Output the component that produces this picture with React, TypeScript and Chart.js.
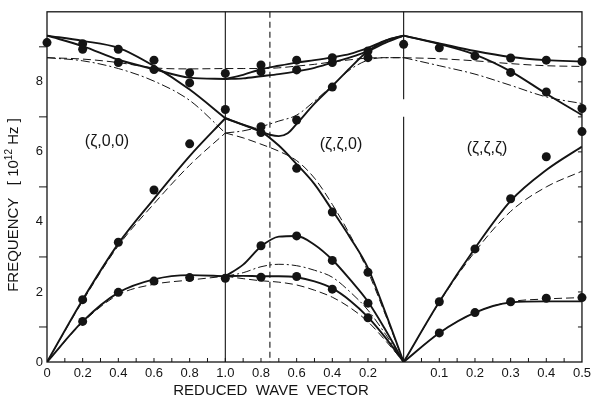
import { useEffect, useRef } from 'react';
import { Chart, registerables } from 'chart.js';
Chart.register(...registerables);

// ---- reduced wave vector grids (one per direction) ----
const Z100 = [0, 0.2, 0.4, 0.6, 0.8, 1.0];
const Z110 = [1.0, 0.9, 0.8, 0.7, 0.6, 0.5, 0.4, 0.3, 0.2, 0.1, 0];
const Z110F = [1.0, 0.9, 0.8, 0.75, 0.7, 0.65, 0.6, 0.5, 0.4, 0.3, 0.2, 0.1, 0];
const Z111 = [0, 0.1, 0.2, 0.3, 0.4, 0.5];

// ---- (ζ,0,0) calculated branches, frequency in 10^12 Hz ----
const S100_TO = [9.32, 9.02, 8.63, 8.36, 8.12, 8.08];
const S100_LO = [9.32, 9.17, 8.97, 8.45, 7.78, 6.96];
const S100_LA = [0, 1.78, 3.38, 4.66, 5.88, 6.96];
const S100_TA = [0, 1.16, 1.98, 2.36, 2.48, 2.45];
const D100_TO = [8.69, 8.65, 8.55, 8.4, 8.37, 8.38];
const D100_LO = [8.69, 8.6, 8.38, 8.02, 7.47, 6.54];
const D100_LA = [0, 1.74, 3.32, 4.52, 5.62, 6.54];
const D100_TA = [0, 1.13, 1.92, 2.22, 2.34, 2.45];

// ---- (ζ,ζ,0) calculated branches ----
const S110_T1 = [8.08, 8.1, 8.16, 8.22, 8.3, 8.4, 8.55, 8.7, 8.88, 9.12, 9.32];
const S110_T2 = [8.08, 8.2, 8.36, 8.46, 8.55, 8.62, 8.7, 8.8, 8.97, 9.18, 9.32];
const S110_OPT = [6.96, 6.77, 6.58, 6.49, 6.45, 6.53, 6.8, 7.38, 7.88, 8.4, 8.88, 9.18, 9.32];
const S110_LA = [6.96, 6.78, 6.58, 6.18, 5.65, 5.08, 4.33, 3.55, 2.68, 1.38, 0];
const S110_TA1 = [2.45, 2.78, 3.3, 3.58, 3.6, 3.35, 2.92, 2.35, 1.72, 0.9, 0];
const S110_TA2 = [2.45, 2.46, 2.45, 2.45, 2.42, 2.3, 2.1, 1.75, 1.28, 0.68, 0];
const D110_UP = [8.38, 8.38, 8.38, 8.4, 8.45, 8.5, 8.57, 8.63, 8.68, 8.69, 8.69];
const D110_OPT = [6.54, 6.6, 6.72, 6.88, 7.05, 7.45, 7.9, 8.35, 8.62, 8.69, 8.69];
const D110_LA = [6.54, 6.4, 6.22, 6.02, 5.75, 5.25, 4.5, 3.62, 2.58, 1.32, 0];
const D110_TA1 = [2.45, 2.55, 2.72, 2.79, 2.75, 2.62, 2.42, 2.0, 1.48, 0.78, 0];
const D110_TA2 = [2.45, 2.38, 2.32, 2.28, 2.2, 2.05, 1.85, 1.55, 1.15, 0.6, 0];

// ---- (ζ,ζ,ζ) calculated branches ----
const S111_TO = [9.32, 9.1, 8.88, 8.71, 8.62, 8.58];
const S111_LO = [9.32, 9.08, 8.78, 8.3, 7.66, 7.05];
const S111_LA = [0, 1.72, 3.25, 4.6, 5.48, 6.15];
const S111_TA = [0, 0.83, 1.41, 1.7, 1.73, 1.73];
const D111_TO = [8.69, 8.66, 8.6, 8.52, 8.46, 8.44];
const D111_LO = [8.69, 8.46, 8.22, 7.9, 7.57, 7.38];
const D111_LA = [0, 1.7, 3.15, 4.3, 5.0, 5.45];
const D111_TA = [0, 0.83, 1.41, 1.72, 1.8, 1.84];

// ---- measured points [ζ, frequency] ----
const P100: number[][] = [
  [0, 9.12], [0.2, 9.09], [0.2, 8.93], [0.4, 8.93], [0.4, 8.55], [0.6, 8.62], [0.6, 8.35],
  [0.8, 8.26], [0.8, 7.97], [1.0, 8.24], [1.0, 7.21], [0.8, 6.23], [0.6, 4.91], [0.4, 3.42],
  [0.2, 1.78], [0.2, 1.16], [0.4, 1.99], [0.6, 2.31], [0.8, 2.41], [1.0, 2.39],
];
const P110: number[][] = [
  [0.8, 8.48], [0.8, 8.29], [0.6, 8.62], [0.6, 8.34], [0.4, 8.69], [0.4, 8.55], [0.2, 8.88], [0.2, 8.69],
  [0, 9.07], [0.8, 6.72], [0.8, 6.55], [0.6, 6.91], [0.4, 7.85], [0.6, 5.53], [0.4, 4.28], [0.2, 2.56],
  [0.6, 3.6], [0.8, 3.32], [0.4, 2.9], [0.2, 1.68], [0.8, 2.42], [0.6, 2.44], [0.4, 2.08], [0.2, 1.26],
];
const P111: number[][] = [
  [0.1, 8.97], [0.2, 8.74], [0.3, 8.68], [0.3, 8.27], [0.4, 8.62], [0.4, 7.71], [0.5, 8.58], [0.5, 7.24],
  [0.5, 6.58], [0.4, 5.86], [0.3, 4.66], [0.2, 3.23], [0.1, 1.72], [0.1, 0.83], [0.2, 1.41], [0.3, 1.72],
  [0.4, 1.82], [0.5, 1.84],
];

const SECTION_LABELS = ['(ζ,0,0)', '(ζ,ζ,0)', '(ζ,ζ,ζ)'];
const X_TITLE = 'REDUCED  WAVE  VECTOR';
const Y_TICKS = [0, 2, 4, 6, 8];

const FONT = "'Liberation Sans', Arial, sans-serif";
const INK = '#141414';

// position along the combined abscissa: section 0 -> ζ, section 1 -> 2-ζ, section 2 -> 2+2ζ
const toU = (sec: number, z: number) => (sec === 0 ? z : sec === 1 ? 2 - z : 2 + 2 * z);

type Style = 'solid' | 'dash' | 'dashdot';
const curve = (sec: number, zs: number[], vs: number[], style: Style) => {
  const data = zs.map((z, i) => ({ x: toU(sec, z), y: vs[i] })).sort((a, b) => a.x - b.x);
  return {
    data,
    showLine: true,
    pointRadius: 0,
    borderColor: INK,
    borderWidth: style === 'solid' ? 1.9 : 1,
    borderDash: style === 'solid' ? [] : style === 'dash' ? [8, 4] : [9, 3, 2, 3],
    cubicInterpolationMode: 'monotone' as const,
    order: 1,
  };
};
const dots = (sec: number, pts: number[][]) => ({
  data: pts.map(([z, f]) => ({ x: toU(sec, z), y: f })),
  showLine: false,
  pointRadius: 4.5,
  pointBackgroundColor: INK,
  pointBorderColor: INK,
  pointBorderWidth: 0,
  clip: false as const,
  order: 0,
});

const overlay = {
  id: 'overlay',
  beforeDraw(chart: any) {
    const { ctx } = chart;
    ctx.save();
    ctx.fillStyle = '#fff';
    ctx.fillRect(0, 0, chart.width, chart.height);
    ctx.restore();
  },
  beforeDatasetsDraw(chart: any) {
    const { ctx, chartArea: a, scales } = chart;
    const xs = scales.x, ys = scales.y;
    ctx.save();
    ctx.strokeStyle = INK;
    ctx.lineWidth = 1.3;
    ctx.strokeRect(a.left, a.top, a.right - a.left, a.bottom - a.top);
    // section separators
    ctx.lineWidth = 1.1;
    const x1 = xs.getPixelForValue(1);
    ctx.beginPath(); ctx.moveTo(x1, a.top); ctx.lineTo(x1, a.bottom); ctx.stroke();
    const x2 = xs.getPixelForValue(2);
    ctx.beginPath(); ctx.moveTo(x2, a.top); ctx.lineTo(x2, ys.getPixelForValue(7.5));
    ctx.moveTo(x2, ys.getPixelForValue(7.0)); ctx.lineTo(x2, a.bottom); ctx.stroke();
    const xd = xs.getPixelForValue(toU(1, 0.75));
    ctx.setLineDash([6, 4]);
    ctx.beginPath(); ctx.moveTo(xd, a.top); ctx.lineTo(xd, a.bottom); ctx.stroke();
    ctx.setLineDash([]);
    // tick marks
    ctx.lineWidth = 1;
    ctx.beginPath();
    for (let f = 1; f <= 9; f++) {
      const y = ys.getPixelForValue(f);
      if (f % 2 === 1) { ctx.moveTo(a.left - 8, y); ctx.lineTo(a.left, y); }
      ctx.moveTo(a.right - 4, y); ctx.lineTo(a.right, y);
    }
    for (let k = 1; k < 30; k++) {
      const x = xs.getPixelForValue(k / 10);
      ctx.moveTo(x, a.bottom); ctx.lineTo(x, a.bottom - 4);
    }
    ctx.stroke();
    ctx.restore();
  },
  afterDraw(chart: any) {
    const { ctx } = chart;
    ctx.save();
    ctx.fillStyle = INK;
    ctx.textAlign = 'center';
    ctx.textBaseline = 'middle';
    ctx.font = `16px ${FONT}`;
    ctx.fillText(SECTION_LABELS[0], 107, 142);
    ctx.fillText(SECTION_LABELS[1], 341, 145);
    ctx.fillText(SECTION_LABELS[2], 487, 149);
    ctx.font = `15px ${FONT}`;
    ctx.fillText(X_TITLE, 271, 391);
    // y title, rotated
    ctx.translate(14, 205);
    ctx.rotate(-Math.PI / 2);
    ctx.textAlign = 'left';
    const main = `15px ${FONT}`, sup = `10px ${FONT}`;
    const parts: [string, string, number][] = [
      ['FREQUENCY   [ 10', main, 0], ['12', sup, -5], [' Hz ]', main, 0],
    ];
    let total = 0;
    parts.forEach(([t, f]) => { ctx.font = f; total += ctx.measureText(t).width; });
    let x = -total / 2;
    parts.forEach(([t, f, dy]) => { ctx.font = f; ctx.fillText(t, x, dy); x += ctx.measureText(t).width; });
    ctx.restore();
  },
};

export default function App() {
  const ref = useRef<HTMLCanvasElement>(null);
  useEffect(() => {
    const datasets: any[] = [
      dots(0, P100), dots(1, P110), dots(2, P111),
      curve(0, Z100, S100_TO, 'solid'), curve(0, Z100, S100_LO, 'solid'),
      curve(0, Z100, S100_LA, 'solid'), curve(0, Z100, S100_TA, 'solid'),
      curve(0, Z100, D100_TO, 'dash'), curve(0, Z100, D100_LO, 'dashdot'),
      curve(0, Z100, D100_LA, 'dash'), curve(0, Z100, D100_TA, 'dash'),
      curve(1, Z110, S110_T1, 'solid'), curve(1, Z110, S110_T2, 'solid'),
      curve(1, Z110F, S110_OPT, 'solid'), curve(1, Z110, S110_LA, 'solid'),
      curve(1, Z110, S110_TA1, 'solid'), curve(1, Z110, S110_TA2, 'solid'),
      curve(1, Z110, D110_UP, 'dash'), curve(1, Z110, D110_OPT, 'dashdot'),
      curve(1, Z110, D110_LA, 'dash'), curve(1, Z110, D110_TA1, 'dashdot'),
      curve(1, Z110, D110_TA2, 'dash'),
      curve(2, Z111, S111_TO, 'solid'), curve(2, Z111, S111_LO, 'solid'),
      curve(2, Z111, S111_LA, 'solid'), curve(2, Z111, S111_TA, 'solid'),
      curve(2, Z111, D111_TO, 'dash'), curve(2, Z111, D111_LO, 'dashdot'),
      curve(2, Z111, D111_LA, 'dash'), curve(2, Z111, D111_TA, 'dash'),
    ];
    const chart = new Chart(ref.current!, {
      type: 'scatter',
      data: { datasets },
      plugins: [overlay],
      options: {
        responsive: false,
        animation: false,
        devicePixelRatio: 1,
        layout: { padding: { top: 8, right: 6, left: 0, bottom: 0 } },
        plugins: { legend: { display: false }, tooltip: { enabled: false } },
        scales: {
          x: {
            type: 'linear', min: 0, max: 3,
            grid: { display: false, drawTicks: false },
            border: { display: false },
            afterFit: (s: any) => { s.height = 40; },
            ticks: {
              stepSize: 0.2, autoSkip: false, maxRotation: 0, padding: 4,
              color: INK, font: { family: FONT, size: 13 },
              callback: (v: any) => {
                const u = Math.round(Number(v) * 10) / 10;
                let z: number;
                if (u <= 1) z = u; else if (u < 2) z = 2 - u; else if (u === 2) return ''; else z = (u - 2) / 2;
                z = Math.round(z * 10) / 10;
                return z === 0 ? '0' : z.toFixed(1);
              },
            },
          },
          y: {
            type: 'linear', min: 0, max: 10,
            grid: { display: false, drawTicks: false },
            border: { display: false },
            afterFit: (s: any) => { s.width = 47; },
            ticks: {
              stepSize: 1, padding: 4, color: INK, font: { family: FONT, size: 13 },
              callback: (v: any) => (Y_TICKS.includes(Number(v)) ? String(v) : ''),
            },
          },
        },
      },
    });
    return () => chart.destroy();
  }, []);
  return (
    <div style={{ position: 'fixed', left: 0, top: 0, width: 595, height: 402, background: '#fff' }}>
      <canvas ref={ref} width={595} height={402} style={{ display: 'block' }} />
    </div>
  );
}
